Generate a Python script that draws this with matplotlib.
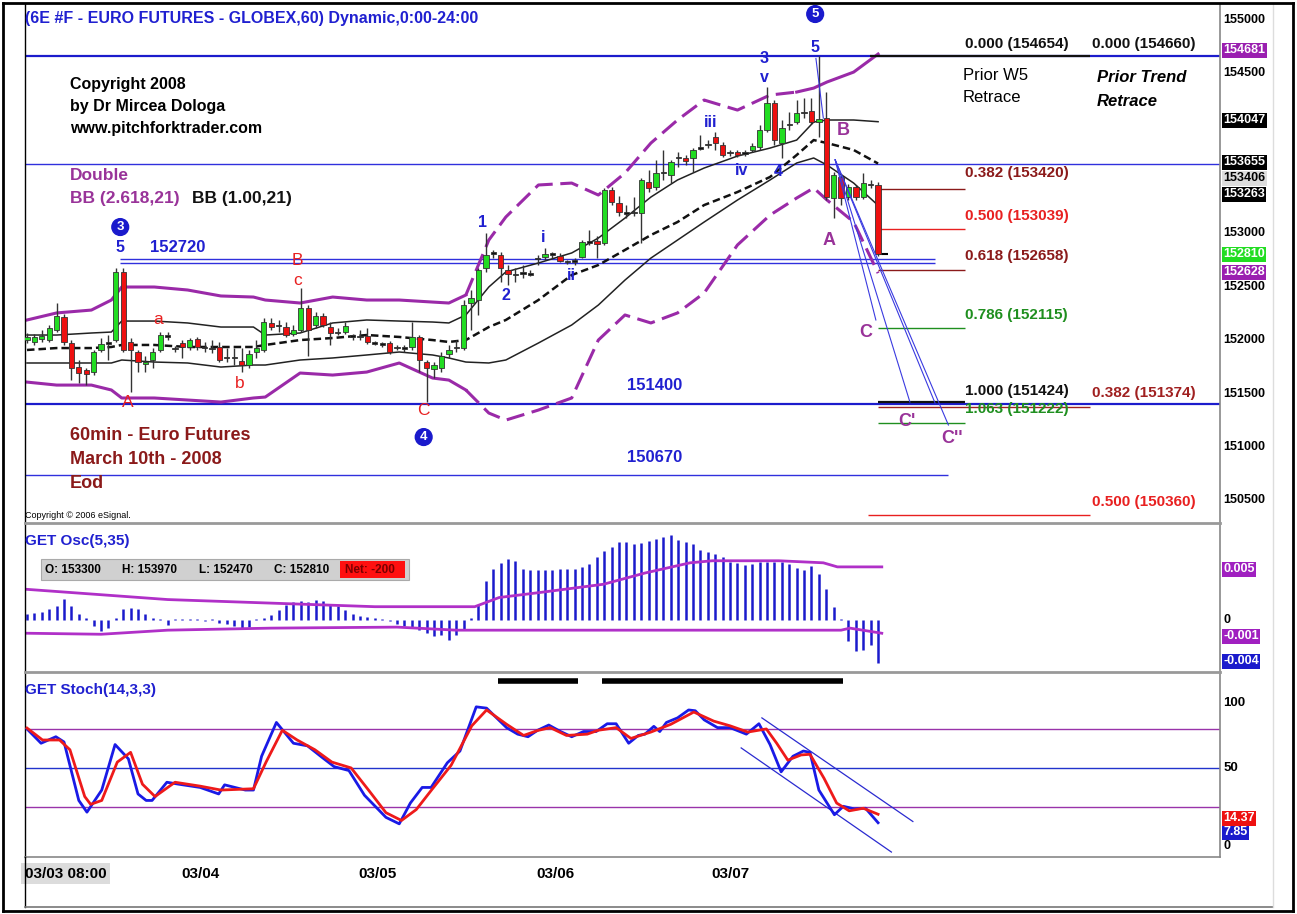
import matplotlib
matplotlib.use("Agg")
import matplotlib.pyplot as plt
from matplotlib.lines import Line2D
from matplotlib.patches import Rectangle
import numpy as np

plt.rcParams['font.family'] = ['Liberation Sans', 'DejaVu Sans']

# ---------------- data ----------------
opens = [152000, 151980, 152010, 152000, 152095, 152215, 151970, 151750, 151720, 151700,
         151910, 151965, 152000, 152640, 151980, 151890, 151775, 151815, 151910, 152030,
         151915, 151970, 151935, 152010, 151925, 151925, 151935, 151840, 151830, 151805,
         151770, 151890, 151910, 152160, 152130, 152125, 152055, 152095, 152300, 152140,
         152225, 152125, 152065, 152075, 152030, 152030, 152040, 151970, 151955, 151970,
         151925, 151925, 151935, 152030, 151795, 151730, 151740, 151870, 151925, 151925,
         152350, 152375, 152675, 152810, 152800, 152655, 152610, 152620, 152620, 152760,
         152780, 152800, 152790, 152735, 152735, 152780, 152920, 152930, 152910, 153405,
         153285, 153190, 153190, 153190, 153480, 153435, 153565, 153545, 153705, 153705,
         153705, 153800, 153830, 153900, 153830, 153750, 153765, 153750, 153780, 153810,
         153970, 154220, 153845, 154015, 154045, 154130, 154145, 154045, 154080, 153330,
         153530, 153340, 153435, 153340, 153450, 153450]
highs = [152065, 152055, 152095, 152140, 152350, 152245, 152000, 151815, 151740, 151910,
         152020, 152050, 152675, 152675, 152020, 151910, 151850, 151925, 152075, 152075,
         151945, 152000, 152020, 152030, 151980, 152000, 151980, 151925, 151925, 151925,
         151910, 152000, 152205, 152205, 152190, 152170, 152140, 152490, 152330, 152265,
         152255, 152170, 152115, 152170, 152055, 152095, 152115, 151990, 151980, 151990,
         151955, 151955, 152170, 152050, 151815, 151795, 151890, 151955, 152000, 152375,
         152470, 152675, 153005, 152845, 152825, 152705, 152675, 152705, 152655, 152800,
         152865, 152825, 152820, 152750, 152770, 152940, 153030, 152975, 153425, 153435,
         153350, 153265, 153340, 153520, 153595, 153690, 153780, 153690, 153765, 153735,
         153800, 153920, 153875, 153950, 153860, 153780, 153780, 153780, 153845, 154015,
         154370, 154250, 154065, 154135, 154250, 154270, 154270, 154660, 154325, 153575,
         153555, 153465, 153455, 153565, 153500, 153485]
lows = [151970, 151955, 151980, 151980, 152075, 151955, 151625, 151600, 151580, 151675,
        151890, 151815, 151980, 151890, 151515, 151700, 151700, 151740, 151890, 152000,
        151890, 151830, 151910, 151910, 151890, 151880, 151795, 151795, 151770, 151700,
        151740, 151830, 151890, 152095, 152075, 152030, 152040, 152075, 151850, 152115,
        152125, 151955, 152050, 152055, 152000, 152000, 151965, 151955, 151935, 151870,
        151910, 151890, 151910, 151700, 151424, 151645, 151700, 151830, 151890, 151910,
        152095, 152235, 152640, 152770, 152545, 152515, 152545, 152580, 152600, 152705,
        152750, 152770, 152735, 152715, 152705, 152770, 152890, 152770, 152890, 153265,
        153165, 153145, 153165, 152910, 153390, 153405, 153500, 153470, 153620, 153640,
        153575, 153780, 153800, 153780, 153715, 153725, 153715, 153725, 153765, 153780,
        153950, 153830, 153705, 153970, 154025, 154080, 154025, 153905, 153315, 153145,
        153265, 153315, 153315, 153320, 153425, 152790]
closes = [152030, 152030, 152040, 152115, 152225, 151980, 151740, 151690, 151680, 151890,
          151965, 151970, 152640, 151910, 151910, 151795, 151795, 151890, 152050, 152040,
          151925, 151935, 152000, 151935, 151935, 151915, 151815, 151830, 151830, 151770,
          151870, 151925, 152170, 152125, 152140, 152050, 152095, 152300, 152095, 152225,
          152140, 152065, 152075, 152130, 152040, 152025, 151980, 151965, 151960, 151890,
          151935, 151920, 152030, 151815, 151740, 151770, 151850, 151910, 151935, 152330,
          152395, 152655, 152800, 152820, 152675, 152620, 152615, 152625, 152615, 152765,
          152810, 152805, 152745, 152730, 152740, 152920, 152915, 152900, 153405, 153295,
          153200, 153185, 153195, 153500, 153425, 153565, 153570, 153670, 153710, 153680,
          153780, 153795, 153825, 153845, 153735, 153755, 153735, 153745, 153820, 153970,
          154220, 153875, 153990, 154020, 154130, 154125, 154045, 154075, 153340, 153545,
          153330, 153435, 153340, 153470, 153455, 152810]

band_x = [0, 4.0, 8.7, 11.4, 12.8, 17.2, 21.7, 26.2, 30.6, 32.2, 36.9, 41.3, 45.9, 50.3, 54.8,
          57.0, 59.3, 62.4, 64.7, 69.1, 73.6, 77.2, 80.8, 84.3, 87.9, 91.5, 96.0, 100.4, 104.0,
          106.3, 108.1, 111.7, 115.0]
bb_upper2 = [152189, 152255, 152282, 152376, 152498, 152498, 152470, 152414, 152404, 152376,
             152348, 152404, 152376, 152376, 152357, 152348, 152423, 152938, 153154, 153454,
             153472, 153360, 153566, 153847, 154063, 154250, 154156, 154297, 154325, 154362,
             154419, 154512, 154681]
bb_lower2 = [151607, 151579, 151579, 151533, 151458, 151458, 151439, 151420, 151458, 151467,
             151692, 151673, 151701, 151786, 151645, 151626, 151533, 151317, 151251, 151345,
             151458, 152001, 152236, 152161, 152255, 152442, 152892, 153172, 153332, 153426,
             153313, 153107, 152628]
bb_upper1 = [152048, 152048, 152067, 152076, 152179, 152179, 152161, 152123, 152123, 152048,
             152067, 152161, 152189, 152179, 152170, 152161, 152236, 152498, 152639, 152723,
             152817, 152957, 153144, 153341, 153501, 153613, 153725, 153800, 153875, 154044,
             154063, 154063, 154047]
bb_lower1 = [151786, 151786, 151786, 151786, 151814, 151795, 151786, 151748, 151767, 151767,
             151814, 151833, 151861, 151889, 151861, 151833, 151795, 151786, 151814, 151973,
             152142, 152329, 152563, 152769, 152938, 153107, 153313, 153501, 153660, 153707,
             153641, 153472, 153263]
bb_mid = [151908, 151926, 151926, 151936, 151955, 151955, 151936, 151936, 151936, 151955,
          152001, 152020, 152048, 152030, 152001, 151983, 152001, 152123, 152189, 152376,
          152610, 152704, 152845, 152985, 153107, 153266, 153388, 153529, 153735, 153875,
          153847, 153782, 153655]

osc = [0.0006, 0.00065, 0.0008, 0.0011, 0.0014, 0.0021, 0.0014, 0.0006, 0.0002, -0.0006,
       -0.0011, -0.0008, 0.0002, 0.0011, 0.0012, 0.0011, 0.0006, 0.0002, 0.00005, -0.0005,
       0.00005, 0.0001, 0.00005, 0.00005, -0.0001, 0.00005, -0.0003, -0.0004, -0.0006, -0.0008,
       -0.0007, 0.00005, 0.0002, 0.0005, 0.0010, 0.0015, 0.0018, 0.0019, 0.0018, 0.0020,
       0.0019, 0.0016, 0.0014, 0.0010, 0.0006, 0.0004, 0.00025, 0.00015, 0.0001, -0.0001,
       -0.0004, -0.0006, -0.0008, -0.0010, -0.0013, -0.0016, -0.0015, -0.0020, -0.0015, -0.0010,
       0.0002, 0.0015, 0.0038, 0.0050, 0.0056, 0.0060, 0.0058, 0.0050, 0.0049, 0.0049,
       0.0049, 0.0049, 0.0050, 0.0050, 0.0050, 0.0052, 0.0055, 0.0062, 0.0068, 0.0071,
       0.0076, 0.0076, 0.0074, 0.0075, 0.0077, 0.0079, 0.0081, 0.0083, 0.0078, 0.0076,
       0.0074, 0.0069, 0.0067, 0.0065, 0.0062, 0.0057, 0.0056, 0.0054, 0.0055, 0.0057,
       0.0057, 0.0057, 0.0057, 0.0055, 0.0051, 0.0049, 0.0053, 0.0045, 0.0030, 0.0013,
       0.0001, -0.0021, -0.0030, -0.0029, -0.0025, -0.0042]
osc_up_x = [0, 19, 47, 60.5, 63.8, 69.4, 77.9, 83.5, 89.6, 92.6, 101.6, 107.6, 109.5, 115.5]
osc_up_v = [0.0030, 0.0020, 0.0013, 0.0013, 0.0022, 0.0027, 0.0035, 0.0046, 0.0056, 0.0058,
            0.0058, 0.0056, 0.0052, 0.0052]
osc_lo_x = [0, 10, 19, 33, 50, 58, 84, 110, 111.2, 115.5]
osc_lo_v = [-0.0013, -0.0014, -0.0010, -0.0008, -0.0007, -0.0010, -0.0010, -0.0010, -0.0008, -0.0013]

k_x = [0, 1.9, 3.9, 5.0, 7.0, 8.1, 10.1, 11.9, 13.7, 15.0, 16.1, 16.9, 18.9, 20.5, 23.4, 25.9,
       26.7, 29.5, 30.6, 31.7, 33.7, 36.0, 37.9, 39.9, 41.5, 43.5, 45.6, 48.5, 50.3, 51.8, 53.4,
       54.6, 56.8, 58.5, 60.7, 62.1, 64.8, 66.3, 67.7, 69.0, 70.5, 72.1, 73.6, 75.2, 76.9, 78.4,
       79.6, 81.3, 82.6, 83.5, 84.7, 85.5, 86.4, 87.9, 89.4, 90.3, 91.5, 93.3, 95.0, 97.2, 98.9,
       100.4, 101.9, 103.5, 104.9, 105.8, 107.0, 109.1, 110.3, 111.8, 113.3, 115.0]
k_v = [80, 69, 74, 70, 25, 16, 33, 68, 57, 30, 25, 25, 39, 37.5, 35, 30, 37, 33, 33, 59,
       85, 69, 67, 58, 51, 48, 29, 12, 7, 23, 35, 35, 54, 63, 97, 96, 81, 76, 74, 79,
       83, 78, 74, 78, 78, 84, 84, 69, 75, 76, 82, 78, 85, 88.5, 94.6, 94, 87, 81, 81, 76,
       84, 68, 47, 59, 63, 62, 33, 14, 20.5, 18.5, 19, 7.85]
d_x = [0, 2.1, 4.4, 5.8, 7.8, 8.6, 10.1, 12.2, 14.0, 15.6, 17.3, 20.0, 23.4, 26.2, 30.6, 32.3,
       34.5, 36.5, 38.9, 41.2, 43.8, 46.2, 48.5, 50.6, 52.6, 54.6, 57.3, 60.1, 62.1, 64.8, 67.1,
       69.0, 70.7, 72.9, 75.7, 77.2, 79.6, 81.6, 84.3, 87.0, 90.1, 92.8, 95.0, 97.4, 99.9, 101.3,
       102.8, 104.6, 105.8, 107.7, 109.4, 111.1, 113.0, 115.0]
d_v = [80.7, 71.5, 71.5, 64, 28, 22, 25, 54.5, 62, 37.5, 28, 39, 36, 33, 34, 54.5, 79, 71.5,
       64, 54.5, 50, 32.6, 15.6, 9.6, 18, 32.6, 52, 82.4, 94.6, 83.6, 75, 78.8, 81, 75, 76, 79,
       81, 72.7, 77.6, 83.6, 93, 86, 82.4, 77.6, 80, 69, 56, 60, 60.5, 42, 23, 17, 19, 14.37]

date_pos = [23.5, 47.3, 71.4, 95.1]
date_labels = ['03/04', '03/05', '03/06', '03/07']
price_ticks = [155000, 154500, 153000, 152500, 152000, 151500, 151000, 150500]

# ---------------- figure ----------------
W, H = 1297, 914
fig = plt.figure(figsize=(W / 100, H / 100), dpi=100)
fig.patch.set_facecolor('white')


def rect(x0, y0, x1, y1):
    return [x0 / W, 1 - y1 / H, (x1 - x0) / W, (y1 - y0) / H]


def fx(x):
    return x / W


def fy(y):
    return 1 - y / H


ax1 = fig.add_axes(rect(25, 4, 1220, 522))
ax2 = fig.add_axes(rect(25, 523, 1220, 671))
ax3 = fig.add_axes(rect(25, 672, 1220, 857))
XL = (-0.27, 161.2)
for ax in (ax1, ax2, ax3):
    ax.set_xlim(*XL)
    ax.set_xticks([])
    ax.set_yticks([])
    for s in ax.spines.values():
        s.set_visible(False)
    ax.spines['left'].set_visible(True)
    ax.spines['left'].set_color('black')
    ax.spines['left'].set_linewidth(1)
    ax.spines['right'].set_visible(True)
    ax.spines['right'].set_color('#888888')
    ax.spines['right'].set_linewidth(1.2)

ax1.set_ylim(150296, 155150)
ax2.set_ylim(-0.0050, 0.0095)
ax3.set_ylim(-18.5, 123.8)

BLUE = '#2020d0'
PURP = '#993399'
RED = '#e82020'
DRED = '#8b1a1a'
GREEN = '#1f8f1f'

# ---------- price panel ----------
x = np.arange(len(opens))
o = np.array(opens); c = np.array(closes)
ax1.vlines(x, lows, highs, color='#333333', lw=1, zorder=3)
body_lo = np.minimum(o, c)
body_h = np.abs(c - o)
doji = body_h < 12
cols = np.where(c > o, '#22dd22', '#ee1010')
cols = np.where(doji, '#111111', cols)
body_h = np.where(doji, 14, body_h)
ax1.bar(x, body_h, bottom=body_lo, width=0.72, color=cols, edgecolor='#333333', lw=0.6, zorder=4)

# Bollinger bands
ax1.plot(band_x[:17], bb_upper2[:17], color='#9a2aa8', lw=2.2, zorder=2)
ax1.plot(band_x[16:29], bb_upper2[16:29], color='#9a2aa8', lw=2.2, ls=(0, (6, 2.5)), zorder=2)
ax1.plot(band_x[28:], bb_upper2[28:], color='#9a2aa8', lw=2.2, zorder=2)
ax1.plot(band_x[:17], bb_lower2[:17], color='#9a2aa8', lw=2.2, zorder=2)
ax1.plot(band_x[16:], bb_lower2[16:], color='#9a2aa8', lw=2.2, ls=(0, (6, 2.5)), zorder=2)
ax1.plot(band_x, bb_upper1, color='#222222', lw=1.1, zorder=2)
ax1.plot(band_x, bb_lower1, color='#222222', lw=1.1, zorder=2)
ax1.plot(band_x, bb_mid, color='#111111', lw=1.8, ls=(0, (3, 1.6)), zorder=2)

# horizontal reference lines
ax1.axhline(154660, color='#1c1ccc', lw=1.6, zorder=1)
ax1.axhline(153655, color='#3030dd', lw=1.0, zorder=1)
ax1.axhline(151400, color='#1c1ccc', lw=1.6, zorder=1)
ax1.hlines([152720, 152765], 12.6, 122.7, color='#3030dd', lw=1.0, zorder=1)
ax1.hlines(150735, -0.27, 124.5, color='#3030dd', lw=1.0, zorder=1)
ax1.hlines(154660, 113.9, 143.6, color='#111111', lw=1.6, zorder=2)
ax1.hlines(153420, 115.0, 126.8, color=DRED, lw=1.0)
ax1.hlines(153039, 115.0, 126.8, color=RED, lw=1.0)
ax1.hlines(152658, 115.0, 126.8, color=DRED, lw=1.0)
ax1.hlines(152115, 115.0, 126.8, color=GREEN, lw=1.0)
ax1.hlines(151374, 115.0, 143.6, color='#a02020', lw=1.0)
ax1.hlines(151424, 115.0, 126.8, color='#111111', lw=1.6, zorder=2)
ax1.hlines(151222, 115.0, 126.8, color=GREEN, lw=1.0)
ax1.hlines(150360, 113.6, 143.6, color=RED, lw=1.0)
ax1.hlines(152810, 115.3, 116.4, color='black', lw=1.5)

# C projection lines
for ex, ey in [(114.7, 152189), (119.3, 151420), (122.7, 151410), (124.5, 151205)]:
    ax1.plot([109.2, ex], [153690, ey], color='#3a3ae0', lw=0.8, zorder=5)
ax1.plot([106.6, 107.6], [154640, 154080], color='#3a3ae0', lw=0.8, zorder=5)

# wave labels
wl = dict(ha='center', va='center', fontsize=11.5, fontweight='bold', zorder=6)
for t, bx, py in [('1', 61.6, 153107), ('2', 64.7, 152423), ('i', 69.7, 152966),
                  ('ii', 73.6, 152610), ('iii', 92.4, 154044), ('iv', 96.5, 153594),
                  ('4', 101.5, 153585), ('3', 99.6, 154643), ('v', 99.6, 154465),
                  ('5', 106.5, 154747), ('5', 12.6, 152864)]:
    ax1.text(bx, py, t, color=BLUE, **wl)
for t, bx, py in [('B', 36.6, 152751), ('c', 36.6, 152563), ('a', 17.7, 152189),
                  ('b', 28.8, 151598), ('A', 13.6, 151420), ('C', 53.6, 151345)]:
    ax1.text(bx, py, t, color=RED, ha='center', va='center', fontsize=12.5, zorder=6)
for t, bx, py in [('B', 110.3, 153969), ('A', 108.4, 152938), ('C', 113.4, 152076),
                  ("C'", 118.9, 151242), ("C''", 125.0, 151083)]:
    ax1.text(bx, py, t, color=PURP, ha='center', va='center', fontsize=13, fontweight='bold', zorder=6)
for t, bx, py in [('3', 12.6, 153060), ('4', 53.6, 151092), ('5', 106.5, 155056)]:
    ax1.text(bx, py, t, color='white', ha='center', va='center', fontsize=9.5, fontweight='bold',
             bbox=dict(boxstyle='circle,pad=0.18', fc='#1a1acc', ec='#1a1acc'), zorder=7)

# fixed texts in price panel
fig.text(fx(25), fy(18), '(6E #F - EURO FUTURES - GLOBEX,60) Dynamic,0:00-24:00', color=BLUE,
         fontsize=11.5, fontweight='bold', va='center', ha='left')
for i, t in enumerate(['Copyright 2008', 'by Dr Mircea Dologa', 'www.pitchforktrader.com']):
    fig.text(fx(70), fy(85 + 22 * i), t, fontsize=11.5, fontweight='bold', va='center')
fig.text(fx(70), fy(175), 'Double', color=PURP, fontsize=12.5, fontweight='bold', va='center')
fig.text(fx(70), fy(199), 'BB (2.618,21)', color=PURP, fontsize=12.5, fontweight='bold', va='center')
fig.text(fx(192), fy(199), 'BB (1.00,21)', color='#111111', fontsize=12.5, fontweight='bold', va='center')
fig.text(fx(150), fy(248), '152720', color=BLUE, fontsize=12, fontweight='bold', va='center')
fig.text(fx(655), fy(385), '151400', color=BLUE, fontsize=12, fontweight='bold', va='center', ha='center')
fig.text(fx(655), fy(458), '150670', color=BLUE, fontsize=12, fontweight='bold', va='center', ha='center')
for i, t in enumerate(['60min - Euro Futures', 'March 10th - 2008', 'Eod']):
    fig.text(fx(70), fy(436 + 24 * i), t, color=DRED, fontsize=13, fontweight='bold', va='center')
fig.text(fx(25), fy(515), 'Copyright \u00a9 2006 eSignal.', fontsize=6.5, va='center')

fib = [(965, 44, '0.000 (154654)', '#111111'), (1092, 44, '0.000 (154660)', '#111111'),
       (965, 173, '0.382 (153420)', DRED), (965, 216, '0.500 (153039)', RED),
       (965, 256, '0.618 (152658)', DRED), (965, 315, '0.786 (152115)', GREEN),
       (965, 391, '1.000 (151424)', '#111111'), (965, 409, '1.063 (151222)', GREEN),
       (1092, 393, '0.382 (151374)', '#a02020'), (1092, 502, '0.500 (150360)', RED)]
for px, py, t, col in fib:
    fig.text(fx(px), fy(py), t, color=col, fontsize=11, fontweight='bold', va='center', ha='left')
fig.text(fx(963), fy(75), 'Prior W5', fontsize=12, va='center')
fig.text(fx(963), fy(98), 'Retrace', fontsize=12, va='center')
fig.text(fx(1097), fy(78), 'Prior Trend', fontsize=12, fontweight='bold', style='italic', va='center')
fig.text(fx(1097), fy(102), 'Retrace', fontsize=12, fontweight='bold', style='italic', va='center')

# right-axis labels
def rl(py, t, fc=None, tc='black', z=10):
    kw = dict(fontsize=9, fontweight='bold', va='center', ha='left', color=tc, zorder=z)
    if fc:
        kw['bbox'] = dict(boxstyle='square,pad=0.12', fc=fc, ec='none')
    fig.text(fx(1223), fy(py), t, **kw)

for v in price_ticks:
    ax1.text(1.003, v, str(v), transform=ax1.get_yaxis_transform(), fontsize=9,
             fontweight='bold', va='center', ha='left', clip_on=False)
rl(50, '154681', '#9a1fb0', 'white')
rl(120, '154047', 'black', 'white')
rl(162, '153655', 'black', 'white')
rl(178, '153406', '#dddddd', 'black')
rl(194, '153263', 'black', 'white')
rl(254, '152810', '#22dd22', 'white')
rl(272, '152628', '#9a1fb0', 'white')

# ---------- oscillator panel ----------
ax2.vlines(np.arange(len(osc)), 0, osc, color='#1a1acc', lw=1.8)
ax2.plot(osc_up_x, osc_up_v, color='#b030c8', lw=2)
ax2.plot(osc_lo_x, osc_lo_v, color='#b030c8', lw=2)
fig.text(fx(25), fy(541), 'GET Osc(5,35)', color=BLUE, fontsize=11, fontweight='bold', va='center')
fig.patches.append(Rectangle((fx(41), fy(580)), (409 - 41) / W, 21 / H, transform=fig.transFigure,
                             fc='#d0d0d0', ec='#aaaaaa', lw=0.8))
fig.patches.append(Rectangle((fx(340), fy(578)), 65 / W, 17 / H, transform=fig.transFigure,
                             fc='#ff1010', ec='none'))
for px, t, col in [(45, 'O: 153300', 'black'), (122, 'H: 153970', 'black'), (199, 'L: 152470', 'black'),
                   (274, 'C: 152810', 'black'), (345, 'Net: -200', '#7a0000')]:
    fig.text(fx(px), fy(570), t, fontsize=8.5, fontweight='bold', color=col, va='center', ha='left')
rl(569, '0.005', '#a020c0', 'white')
rl(620, '0')
rl(636, '-0.001', '#a020c0', 'white')
rl(661, '-0.004', '#1a1acc', 'white')

# ---------- stochastic panel ----------
ax3.axhline(80, color='#9933aa', lw=1)
ax3.axhline(50, color='#2233cc', lw=1)
ax3.axhline(20, color='#9933aa', lw=1)
ax3.plot(k_x, k_v, color='#1a1ae6', lw=2, zorder=3)
ax3.plot(d_x, d_v, color='#ee1a1a', lw=2, zorder=4)
ax3.plot([99.3, 119.7], [88.5, 8.8], color='#2a2ad0', lw=0.9)
ax3.plot([96.5, 116.8], [65.4, -14.7], color='#2a2ad0', lw=0.9)
ax3.hlines(117, 63.6, 74.5, color='black', lw=4)
ax3.hlines(117, 77.7, 110.3, color='black', lw=4)
fig.text(fx(25), fy(690), 'GET Stoch(14,3,3)', color=BLUE, fontsize=11, fontweight='bold', va='center')
for v in [100, 50]:
    ax3.text(1.003, v, str(v), transform=ax3.get_yaxis_transform(), fontsize=9.5,
             fontweight='bold', va='center', ha='left', clip_on=False)
rl(832, '7.85', '#1a1acc', 'white')
rl(846, '0')
rl(818, '14.37', '#ee1111', 'white')

# dates
for p, t in zip(date_pos, date_labels):
    ax3.text(p, -0.09, t, transform=ax3.get_xaxis_transform(), fontsize=11, fontweight='bold',
             ha='center', va='center', clip_on=False)
ax3.text(0.0, -0.09, '03/03 08:00', transform=ax3.transAxes, fontsize=11, fontweight='bold',
         ha='left', va='center', clip_on=False,
         bbox=dict(boxstyle='square,pad=0.25', fc='#dcdcdc', ec='none'))

# frames and separators
def fline(x0, y0, x1, y1, color='black', lw=1.0):
    fig.lines.append(Line2D([fx(x0), fx(x1)], [fy(y0), fy(y1)], transform=fig.transFigure,
                            color=color, lw=lw))

fline(25, 522.5, 1220, 522.5, '#999999', 2.0)
fline(25, 671.5, 1220, 671.5, '#999999', 2.0)
fline(25, 857, 1220, 857, '#888888', 1.2)
fline(25, 857, 25, 907, 'black', 1.0)
fline(25, 907, 1273, 907, '#777777', 1.2)
fline(1273, 4, 1273, 907, '#dddddd', 1.0)
fline(3, 3, 1293, 3, 'black', 2.0)
fline(3, 911, 1293, 911, 'black', 2.0)
fline(3, 3, 3, 911, 'black', 2.0)
fline(1293, 3, 1293, 911, 'black', 2.0)

fig.savefig('out.png', dpi=100, facecolor='white')
